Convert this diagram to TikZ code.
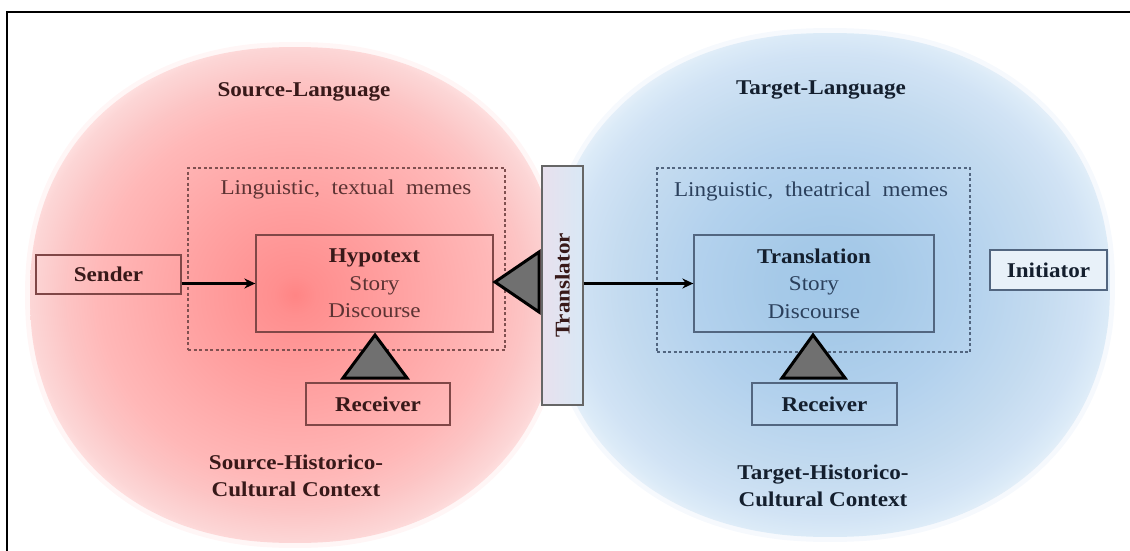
\documentclass[tikz,border=0pt]{standalone}
\usepackage{fontspec}
\setmainfont{Liberation Serif}[FakeStretch=1.1]
\usetikzlibrary{arrows.meta}

\definecolor{srcInk}{rgb}{0.22,0.10,0.10}
\definecolor{srcSoft}{rgb}{0.36,0.20,0.20}
\definecolor{srcLine}{rgb}{0.50,0.28,0.28}
\definecolor{tgtInk}{rgb}{0.08,0.12,0.18}
\definecolor{tgtSoft}{rgb}{0.17,0.25,0.36}
\definecolor{tgtLine}{rgb}{0.32,0.40,0.50}
\definecolor{triFill}{rgb}{0.44,0.44,0.44}
\definecolor{lavender}{rgb}{0.91,0.88,0.93}
\definecolor{paleBlue}{rgb}{0.85,0.91,0.96}
\definecolor{srcHalo}{rgb}{1,0.94,0.94}
\definecolor{tgtHalo}{rgb}{0.94,0.96,0.99}

% soft radial glows for the two cultural spheres (25bp = rim of the path)
\pgfdeclareradialshading{srcglow}{\pgfpoint{0bp}{0bp}}{%
  rgb(0bp)=(1,0.52,0.52); rgb(2bp)=(1,0.56,0.56); rgb(10.5bp)=(1,0.64,0.64);
  rgb(18.5bp)=(1,0.72,0.72); rgb(21.7bp)=(0.99,0.77,0.77); rgb(25bp)=(0.99,0.84,0.84);
  rgb(26.5bp)=(1,0.90,0.90); rgb(50bp)=(1,0.90,0.90)}
\pgfdeclareradialshading{tgtglow}{\pgfpoint{0bp}{0bp}}{%
  rgb(0bp)=(0.63,0.78,0.91); rgb(5bp)=(0.65,0.79,0.91); rgb(12bp)=(0.70,0.82,0.93);
  rgb(19bp)=(0.77,0.86,0.94); rgb(23bp)=(0.82,0.89,0.96); rgb(25bp)=(0.86,0.92,0.97);
  rgb(26.5bp)=(0.92,0.95,0.98); rgb(50bp)=(0.92,0.95,0.98)}

\tikzset{
  txt/.style={font=\fontsize{21}{27.5}\selectfont, inner sep=0pt, align=center},
  srcbox/.style={draw=srcLine, line width=1.3pt, inner sep=0pt, txt, text=srcInk},
  tgtbox/.style={draw=tgtLine, line width=1.3pt, inner sep=0pt, txt, text=tgtInk},
  srcframe/.style={draw=srcLine!85!gray, line width=1.3pt, dash pattern=on 3pt off 2.5pt, inner sep=0pt},
  tgtframe/.style={draw=tgtLine, line width=1.3pt, dash pattern=on 3pt off 2.5pt, inner sep=0pt},
  pointer/.style={fill=triFill, draw=black, line width=3pt, line join=miter},
  flow/.style={draw=black, line width=2.2pt, -{Stealth[length=11pt,width=10pt]}},
  halo/.style={line width=10pt, opacity=0.6},
}

\begin{document}
\begin{tikzpicture}[x=1pt,y=-1pt]
\useasboundingbox (0,0) rectangle (1130,551);

% source sphere
\def\srcrim{plot[smooth cycle, samples=120, domain=1.5:358.5]
  ({295+265*sign(cos(\x))*abs(cos(\x))^(0.909)},
   {295+248*sign(sin(\x))*abs(sin(\x))^(0.909)})}
\draw[halo, draw=srcHalo] \srcrim;
\shade[shading=srcglow] \srcrim;
% target sphere
\def\tgtrim{plot[smooth cycle, samples=120, domain=1.5:358.5]
  ({830+280*sign(cos(\x))*abs(cos(\x))^(0.909)},
   {285+252*sign(sin(\x))*abs(sin(\x))^(0.909)})}
\draw[halo, draw=tgtHalo] \tgtrim;
\shade[shading=tgtglow] \tgtrim;

% outer frame
\draw[line width=1.6pt] (7,560) -- (7,12) -- (1140,12);

% headings
\node[txt, text=srcInk, font=\fontsize{21}{27.5}\selectfont\bfseries] (srclang) at (304,92) {Source-Language};
\node[txt, text=tgtInk, font=\fontsize{21}{27.5}\selectfont\bfseries] (tgtlang) at (821,90) {Target-Language};
\node[txt, text=srcInk, font=\fontsize{21}{27}\selectfont\bfseries] (srcctx) at (296,476) {Source-Historico-\\Cultural Context};
\node[txt, text=tgtInk, font=\fontsize{21}{27}\selectfont\bfseries] (tgtctx) at (823,486) {Target-Historico-\\Cultural Context};

% meme frames
\node[srcframe, minimum width=317pt, minimum height=182pt] (srcmemes) at (346.5,259) {};
\node[tgtframe, minimum width=313pt, minimum height=184pt] (tgtmemes) at (813.5,260) {};
\node[txt, text=srcSoft] (srcmemlbl) at (346,189) {Linguistic,\ \ textual\ \ memes};
\node[txt, text=tgtSoft] (tgtmemlbl) at (811,191) {Linguistic,\ \ theatrical\ \ memes};

% texts
\node[srcbox, minimum width=237pt, minimum height=97pt] (hypo) at (374.5,283.5)
  {{\bfseries Hypotext}\\\color{srcSoft}Story\\\color{srcSoft}Discourse};
\node[tgtbox, minimum width=240pt, minimum height=97pt] (transl) at (814,283.5)
  {{\bfseries Translation}\\\color{tgtSoft}Story\\\color{tgtSoft}Discourse};

% agents
\node[srcbox, minimum width=145pt, minimum height=39pt, font=\fontsize{21}{27}\selectfont\bfseries] (sender) at (108.5,274.5) {Sender};
\node[srcbox, minimum width=144pt, minimum height=42pt, font=\fontsize{21}{27}\selectfont\bfseries] (recvsrc) at (378,404) {Receiver};
\node[tgtbox, minimum width=145pt, minimum height=42pt, font=\fontsize{21}{27}\selectfont\bfseries] (recvtgt) at (824.5,404) {Receiver};
\node[draw=tgtLine, line width=1.3pt, fill=paleBlue!60!white, minimum width=117pt, minimum height=40pt, inner sep=0pt,
      font=\fontsize{21}{27}\selectfont\bfseries, text=tgtInk] (init) at (1048.5,270) {Initiator};
\node[draw=gray!80!black, line width=1.3pt, left color=lavender, right color=paleBlue, minimum width=41pt, minimum height=239pt,
      inner sep=0pt] (trans) at (562.5,285.5) {};
\node[txt, text=srcInk, font=\fontsize{21}{27}\selectfont\bfseries, rotate=90] (translbl) at (trans.center) {Translator};

% pointers
\path[pointer] (375,335) -- (407,378) -- (343,378) -- cycle;
\path[pointer] (813,335) -- (845,378) -- (782,378) -- cycle;
\path[pointer] (495,282) -- (539,252) -- (539,312) -- cycle;

% flows
\draw[flow] (sender.east |- hypo.west) -- (hypo.west);
\draw[flow] (trans.east |- transl.west) -- (transl.west);
\end{tikzpicture}
\end{document}
